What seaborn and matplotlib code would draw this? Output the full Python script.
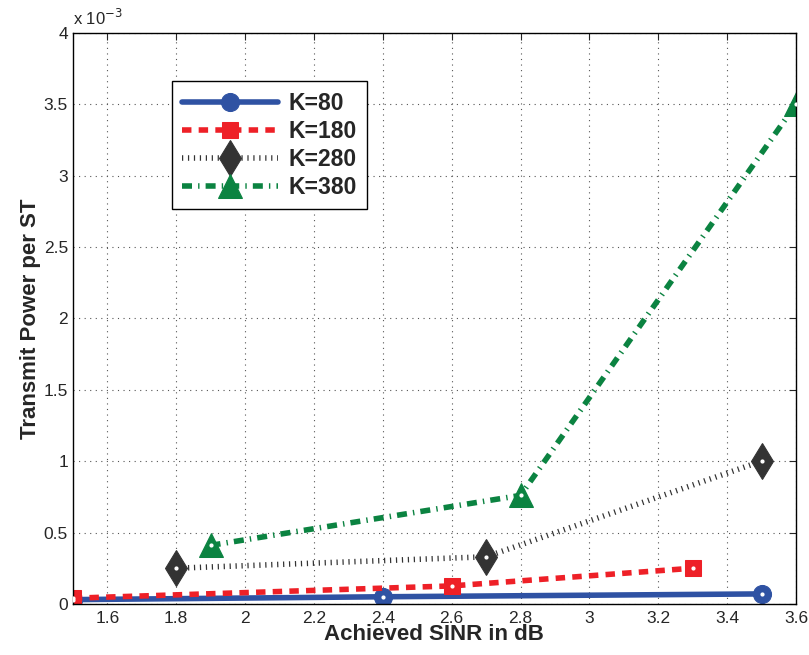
import pandas as pd
import numpy as np
import seaborn as sns
import matplotlib.pyplot as plt
from matplotlib.ticker import FuncFormatter, MultipleLocator

# --- data (power in W) ---
sinr_k80 = [1.5, 2.4, 3.5]
pow_k80 = [0.03e-3, 0.05e-3, 0.07e-3]

sinr_k180 = [1.5, 2.6, 3.3]
pow_k180 = [0.04e-3, 0.126e-3, 0.25e-3]

sinr_k280 = [1.8, 2.7, 3.5]
pow_k280 = [0.25e-3, 0.33e-3, 1.0e-3]

sinr_k380 = [1.9, 2.8, 3.6]
pow_k380 = [0.41e-3, 0.76e-3, 3.5e-3]

labels = ["K=80", "K=180", "K=280", "K=380"]

frames = []
for lab, xs, ys in zip(labels,
                       [sinr_k80, sinr_k180, sinr_k280, sinr_k380],
                       [pow_k80, pow_k180, pow_k280, pow_k380]):
    frames.append(pd.DataFrame({"SINR": xs, "Power": ys, "K": lab}))
df = pd.concat(frames, ignore_index=True)

# --- styles per series ---
STYLES = {
    "K=80":  dict(color="#2f52a3", linestyle="-", linewidth=4, marker="o", markersize=13),
    "K=180": dict(color="#ee2027", linestyle=(0, (1.7, 1.3)), linewidth=4, marker="s", markersize=12),
    "K=280": dict(color="#333333", linestyle=(0, (0.22, 0.85)), linewidth=4, marker="d", markersize=18),
    "K=380": dict(color="#0b8341", linestyle=(0, (1.8, 1.1, 0.25, 1.1)), linewidth=4, marker="^", markersize=17),
}

sns.set_style("white")
plt.rcParams['font.family'] = ['Liberation Sans', 'DejaVu Sans']

fig = plt.figure(figsize=(8.09, 6.55), dpi=100)
ax = fig.add_axes([0.090, 0.078, 0.894, 0.872])

for lab in labels:
    sub = df[df["K"] == lab]
    st = STYLES[lab]
    sns.lineplot(data=sub, x="SINR", y="Power", ax=ax, label=lab,
                 color=st["color"], linewidth=st["linewidth"],
                 marker=st["marker"], markersize=st["markersize"],
                 markeredgecolor=st["color"], markerfacecolor=st["color"],
                 estimator=None, sort=False)
    ln = ax.lines[-1]
    ln.set_linestyle(st["linestyle"])
    ln.set_dash_capstyle("butt")
    # small white centre dot as in the original export
    ax.plot(sub["SINR"], sub["Power"], linestyle="none", marker="o", markersize=2.0,
            color="white", label="_nolegend_", zorder=5)

ax.set_xlim(1.5, 3.6)
ax.set_ylim(0, 4e-3)
ax.xaxis.set_major_locator(MultipleLocator(0.2))
ax.yaxis.set_major_locator(MultipleLocator(0.5e-3))
ax.xaxis.set_major_formatter(FuncFormatter(lambda v, p: "%g" % round(v, 2)))
ax.yaxis.set_major_formatter(FuncFormatter(lambda v, p: "%g" % round(v * 1e3, 2)))
ax.tick_params(direction="in", length=5, labelsize=12.5, top=True, right=True, width=0.8)
ax.tick_params(axis="x", pad=5)

ax.grid(True, linestyle=(0, (1, 4)), color="#555555", linewidth=0.8)
for spine in ax.spines.values():
    spine.set_edgecolor("black")
    spine.set_linewidth(1.0)

ax.set_xlabel("Achieved SINR in dB", fontsize=16, fontweight="bold", labelpad=-1)
ax.set_ylabel("Transmit Power per ST", fontsize=16, fontweight="bold", labelpad=2)
ax.text(0.0, 1.008, r"x 10$^{-3}$", transform=ax.transAxes, fontsize=12, ha="left", va="bottom")

leg = ax.legend(loc="upper left", bbox_to_anchor=(0.137, 0.915),
                prop=dict(weight="bold", size=16.5), handlelength=4.2, frameon=True,
                fancybox=False, edgecolor="black", framealpha=1, borderpad=0.45,
                labelspacing=0.22, handletextpad=0.45, borderaxespad=0)
leg.get_frame().set_linewidth(1.0)

fig.savefig("out.png", dpi=100)
